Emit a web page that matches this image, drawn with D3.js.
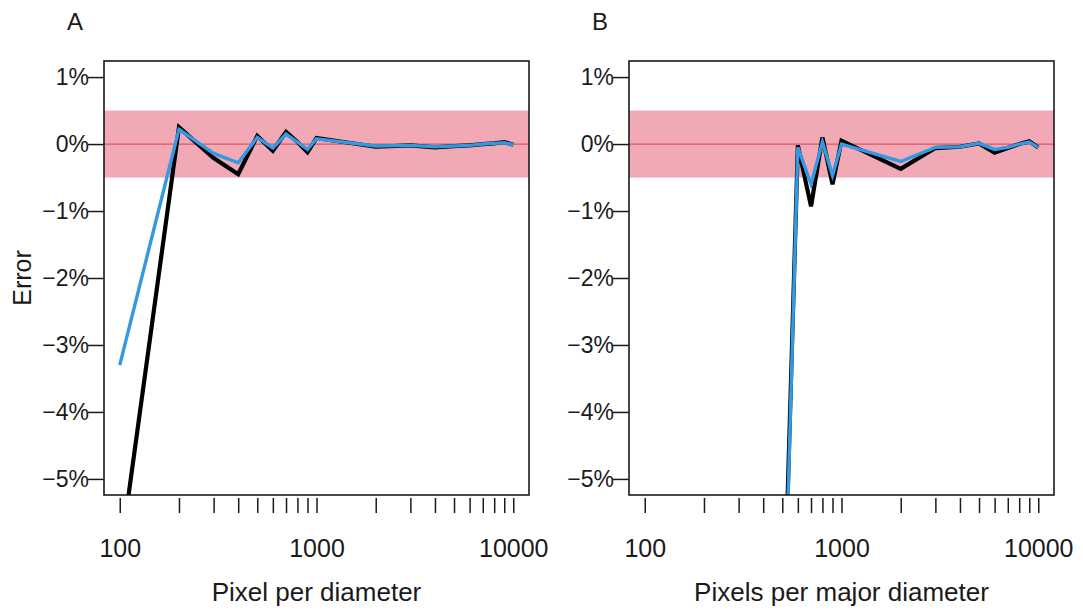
<!DOCTYPE html>
<html>
<head>
<meta charset="utf-8">
<script src="https://cdn.jsdelivr.net/npm/d3@7"></script>
<style>
  body { margin: 0; background: #fff; }
  text { font-family: "Liberation Sans", Arial, Helvetica, sans-serif; fill: #1a1a1a; }
</style>
</head>
<body>
<div id="chart"></div>
<script>
// x values (pixels per diameter) and error in percent
const xA = [100, 200, 300, 400, 500, 600, 700, 800, 900, 1000, 2000, 3000, 4000, 5000, 6000, 7000, 8000, 9000, 10000];
const blackA = [-6.2, 0.25, -0.21, -0.45, 0.12, -0.10, 0.18, 0.03, -0.12, 0.09, -0.04, -0.02, -0.05, -0.03, -0.02, 0.0, 0.01, 0.03, -0.01];
const blueA = [-3.3, 0.22, -0.14, -0.28, 0.10, -0.06, 0.15, 0.03, -0.08, 0.08, -0.03, -0.02, -0.04, -0.03, -0.02, 0.0, 0.01, 0.02, -0.01];

const xB = [500, 600, 700, 800, 900, 1000, 2000, 3000, 4000, 5000, 6000, 7000, 8000, 9000, 10000];
const blackB = [-8.0, -0.02, -0.93, 0.10, -0.60, 0.05, -0.37, -0.06, -0.04, 0.01, -0.13, -0.06, 0.0, 0.04, -0.05];
const blueB = [-8.4, -0.05, -0.60, 0.03, -0.47, 0.0, -0.26, -0.05, -0.04, 0.01, -0.08, -0.05, 0.0, 0.03, -0.05];

const yTicks = [1, 0, -1, -2, -3, -4, -5];
const xLabelTicks = [100, 1000, 10000];
const bandLimit = 0.5;

const panels = [
  { id: "A", left: 104, title: "Pixel per diameter", x: xA, black: blackA, blue: blueA, ylab: true },
  { id: "B", left: 629, title: "Pixels per major diameter", x: xB, black: blackB, blue: blueB, ylab: false }
];

const W = 1083, H = 613;
const plotTop = 61, plotBottom = 495, pw = 425;

const svg = d3.select("#chart").append("svg")
  .attr("width", W)
  .attr("height", H);

// all minor + major ticks 100..10000
const allTicks = [];
[100, 1000].forEach(function(d) { for (let k = 1; k < 10; k++) allTicks.push(d * k); });
allTicks.push(10000);

panels.forEach(function(p) {
  // R style 4% padding on log x range [100, 10000]
  const x = d3.scaleLog()
    .domain([Math.pow(10, 1.92), Math.pow(10, 4.08)])
    .range([p.left, p.left + pw]);
  const y = d3.scaleLinear()
    .domain([-5.24, 1.24])
    .range([plotBottom, plotTop]);

  const g = svg.append("g");

  g.append("clipPath").attr("id", "clip" + p.id)
    .append("rect")
    .attr("x", p.left).attr("y", plotTop)
    .attr("width", pw).attr("height", plotBottom - plotTop);

  // tolerance band
  g.append("rect")
    .attr("x", p.left)
    .attr("width", pw)
    .attr("y", y(bandLimit))
    .attr("height", y(-bandLimit) - y(bandLimit))
    .attr("fill", "#f0a9b5");

  g.append("line")
    .attr("x1", p.left).attr("x2", p.left + pw)
    .attr("y1", y(0)).attr("y2", y(0))
    .attr("stroke", "#e0556e")
    .attr("stroke-width", 1.3);

  const line = d3.line()
    .x(function(d) { return x(d[0]); })
    .y(function(d) { return y(d[1]); });

  g.append("path")
    .datum(p.x.map(function(v, i) { return [v, p.black[i]]; }))
    .attr("clip-path", "url(#clip" + p.id + ")")
    .attr("d", line)
    .attr("fill", "none")
    .attr("stroke", "#000")
    .attr("stroke-width", 4.2)
    .attr("stroke-linejoin", "miter");

  g.append("path")
    .datum(p.x.map(function(v, i) { return [v, p.blue[i]]; }))
    .attr("clip-path", "url(#clip" + p.id + ")")
    .attr("d", line)
    .attr("fill", "none")
    .attr("stroke", "#3399e3")
    .attr("stroke-width", 3.4)
    .attr("stroke-linejoin", "miter");

  // box
  g.append("rect")
    .attr("x", p.left).attr("y", plotTop)
    .attr("width", pw).attr("height", plotBottom - plotTop)
    .attr("fill", "none")
    .attr("stroke", "#1a1a1a")
    .attr("stroke-width", 1.6);

  // x axis
  const xAxis = d3.axisBottom(x)
    .tickValues(allTicks)
    .tickSize(15)
    .tickPadding(26)
    .tickFormat(function(d) { return xLabelTicks.indexOf(d) >= 0 ? d3.format("d")(d) : ""; });

  const gx = g.append("g")
    .attr("transform", "translate(0," + (plotBottom + 3) + ")")
    .call(xAxis);
  gx.select(".domain").remove();
  gx.selectAll(".tick line").attr("stroke", "#1a1a1a").attr("stroke-width", 1.5);
  gx.selectAll(".tick text").attr("font-size", 25).attr("fill", "#1a1a1a");

  // y axis
  const yAxis = d3.axisLeft(y)
    .tickValues(yTicks)
    .tickSize(16)
    .tickPadding(-1)
    .tickFormat(function(d) { return (d < 0 ? "\u2212" + (-d) : d) + "%"; });

  const gy = g.append("g")
    .attr("transform", "translate(" + p.left + ",0)")
    .call(yAxis);
  gy.select(".domain").remove();
  gy.selectAll(".tick line").attr("stroke", "#1a1a1a").attr("stroke-width", 1.5);
  gy.selectAll(".tick text").attr("font-size", 23).attr("fill", "#1a1a1a");

  // axis title
  g.append("text")
    .attr("x", p.left + pw / 2)
    .attr("y", 601)
    .attr("text-anchor", "middle")
    .attr("font-size", 26)
    .text(p.title);

  // panel letter
  g.append("text")
    .attr("x", p.left - 29)
    .attr("y", 30)
    .attr("text-anchor", "middle")
    .attr("font-size", 24)
    .text(p.id);

  if (p.ylab) {
    g.append("text")
      .attr("transform", "translate(31," + ((plotTop + plotBottom) / 2) + ") rotate(-90)")
      .attr("text-anchor", "middle")
      .attr("font-size", 25)
      .text("Error");
  }
});
</script>
</body>
</html>
